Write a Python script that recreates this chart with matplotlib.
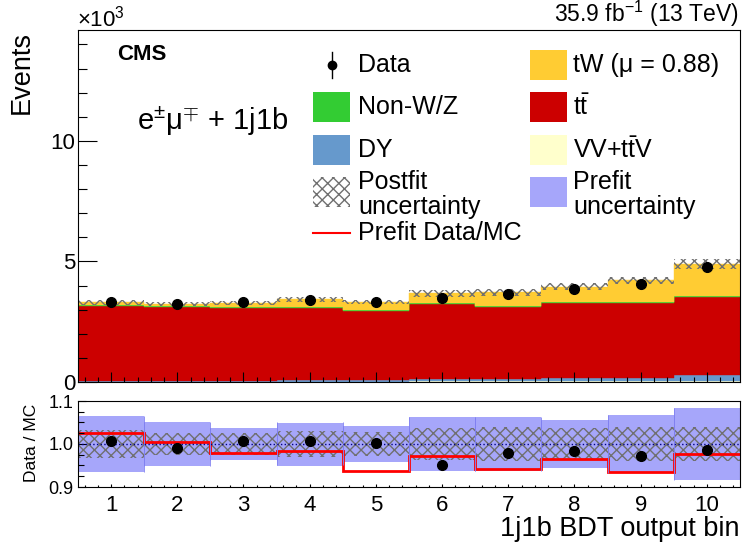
import numpy as np
import matplotlib
matplotlib.use('Agg')
import matplotlib.pyplot as plt
from matplotlib.patches import Rectangle
from matplotlib.lines import Line2D
from matplotlib.ticker import MultipleLocator

plt.rcParams['font.family'] = ['Liberation Sans', 'DejaVu Sans']
plt.rcParams['mathtext.fontset'] = 'custom'
plt.rcParams['mathtext.rm'] = 'Liberation Sans'
plt.rcParams['mathtext.it'] = 'Liberation Sans:italic'
plt.rcParams['mathtext.bf'] = 'Liberation Sans:bold'
plt.rcParams['mathtext.sf'] = 'Liberation Sans'
plt.rcParams['hatch.linewidth'] = 1.0

# bins of the 1j1b BDT output
bins = np.arange(1, 11)
edges = np.arange(0.5, 11.0, 1.0)

# stacked backgrounds, events per bin
vv_ttv = np.array([15, 15, 15, 20, 20, 30, 40, 40, 45, 60])
dy = np.array([20, 25, 25, 60, 60, 80, 100, 110, 110, 240])
ttbar = np.array([3125, 3060, 3020, 3010, 2880, 3120, 2990, 3120, 3115, 3220])
non_wz = np.array([25, 35, 40, 30, 20, 30, 25, 30, 30, 35])
tw = np.array([115, 105, 160, 310, 350, 420, 565, 660, 910, 1345])

# data
data = np.array([3300, 3240, 3300, 3400, 3315, 3500, 3640, 3860, 4070, 4790])
data_err = np.array([57, 57, 57, 58, 58, 59, 60, 62, 64, 69])

# ratio panel
ratio_data = np.array([1.006, 0.990, 1.006, 1.008, 1.003, 0.951, 0.978, 0.984, 0.972, 0.986])
prefit_ratio = np.array([1.025, 1.004, 0.978, 0.984, 0.938, 0.971, 0.941, 0.965, 0.934, 0.976])
prefit_unc = np.array([0.064, 0.052, 0.037, 0.050, 0.043, 0.062, 0.062, 0.056, 0.068, 0.083])
postfit_unc = np.array([0.033, 0.025, 0.025, 0.030, 0.027, 0.037, 0.039, 0.037, 0.039, 0.040])

c_tw = '#ffcc33'
c_tt = '#cc0000'
c_nonwz = '#33cc33'
c_dy = '#6699cc'
c_vv = '#ffffcc'
c_prefit = '#a6a6fa'
c_hatch = '#707070'
hatch = 'xxx'

W, H = 742, 550
def fx(x):
    return x / W
def fy(y):
    return 1 - y / H

fig = plt.figure(figsize=(W / 100, H / 100), dpi=100)
ax = fig.add_axes([fx(78), fy(382), fx(740) - fx(78), fy(30) - fy(382)])
rax = fig.add_axes([fx(78), fy(487), fx(740) - fx(78), fy(401) - fy(487)])

# main panel: stack (in units of 10^3)
base = np.zeros(len(bins))
for comp, col in [(vv_ttv, c_vv), (dy, c_dy), (ttbar, c_tt), (non_wz, c_nonwz), (tw, c_tw)]:
    ax.stairs((base + comp) / 1000, edges, baseline=base / 1000, fill=True,
              facecolor=col, edgecolor=col, lw=0.3)
    base = base + comp
total = base

ax.stairs(total * (1 + postfit_unc) / 1000, edges, baseline=total * (1 - postfit_unc) / 1000,
          fill=True, facecolor='none', edgecolor=c_hatch, hatch=hatch, lw=0)
ax.errorbar(bins, data / 1000, yerr=data_err / 1000, fmt='o', color='k', ms=7,
            elinewidth=1, capsize=0, zorder=5)

ax.set_xlim(0.5, 10.5)
ax.set_ylim(0, 14.6)
ax.yaxis.set_major_locator(MultipleLocator(5))
ax.yaxis.set_minor_locator(MultipleLocator(1))
ax.xaxis.set_major_locator(MultipleLocator(1))
ax.xaxis.set_minor_locator(MultipleLocator(0.2))
ax.tick_params(which='both', direction='in', top=False, right=False, labelbottom=False)
ax.tick_params(axis='y', which='major', length=13.5, width=0.8, labelsize=16, pad=2)
ax.tick_params(axis='y', which='minor', length=6.5, width=0.8)
ax.tick_params(axis='x', which='major', length=7, width=0.8)
ax.tick_params(axis='x', which='minor', length=3.6, width=0.8)

# ratio panel
rax.bar(bins, 2 * prefit_unc, bottom=1 - prefit_unc, width=1.0, color=c_prefit, lw=0)
rax.vlines(edges[:-1], 1 - prefit_unc, 1 + prefit_unc, color='#8080f0', lw=0.6, zorder=1.5)
rax.vlines(edges[1:], 1 - prefit_unc, 1 + prefit_unc, color='#8080f0', lw=0.6, zorder=1.5)
rax.stairs(1 + postfit_unc, edges, baseline=1 - postfit_unc, fill=True,
           facecolor='none', edgecolor=c_hatch, hatch=hatch, lw=0)
rax.axhline(1.0, color='#000080', ls=':', lw=1)
rax.stairs(prefit_ratio, edges, baseline=None, color='red', lw=2)
rax.plot(bins, ratio_data, 'o', color='k', ms=7, zorder=5)

rax.set_xlim(0.5, 10.5)
rax.set_ylim(0.9, 1.1)
rax.set_yticks([0.9, 1.0, 1.1])
rax.set_yticklabels(['0.9', '1.0', '1.1'])
rax.yaxis.set_minor_locator(MultipleLocator(0.025))
rax.set_xticks(bins)
rax.xaxis.set_minor_locator(MultipleLocator(0.2))
rax.tick_params(which='both', direction='in', top=False, right=False)
rax.tick_params(axis='y', which='major', length=5.5, width=0.8, labelsize=13, pad=3)
rax.tick_params(axis='y', which='minor', length=4, width=0.8)
rax.tick_params(axis='x', which='major', length=2.5, width=0.8, labelsize=16, pad=6)
rax.tick_params(axis='x', which='minor', length=1.3, width=0.8)

for a in (ax, rax):
    for s in a.spines.values():
        s.set_linewidth(0.8)

# texts
fig.text(fx(77), fy(19), r'$\times10^{3}$', fontsize=16, ha='left', va='center')
fig.text(fx(739), fy(14), r'35.9 fb$^{-1}$ (13 TeV)', fontsize=16.5, ha='right', va='center')
fig.text(fx(22), fy(72), 'Events', fontsize=19.5, rotation=90, ha='center', va='center')
fig.text(fx(32), fy(443), 'Data / MC', fontsize=12.5, rotation=90, ha='center', va='center')
fig.text(fx(740), fy(529), '1j1b BDT output bin', fontsize=19.5, ha='right', va='center')
fig.text(fx(117), fy(54), 'CMS', fontsize=16, weight='bold', ha='left', va='center')
fig.text(fx(137), fy(121), r'$\mathrm{e^{\pm}\mu^{\mp}}$ + 1j1b', fontsize=21, ha='left', va='center')

# legend drawn by hand
rows = [65, 107, 150, 192, 233]
x1, x2 = 313, 530
t1, t2 = 358, 573
fs = 18

def swatch(x0, yc, **kw):
    fig.add_artist(Rectangle((fx(x0), fy(yc + 15)), 37 / W, 30 / H,
                             transform=fig.transFigure, **kw))

fig.add_artist(Line2D([fx(x1 + 18.5)] * 2, [fy(rows[0] - 13), fy(rows[0] + 13)],
                      color='k', lw=1, transform=fig.transFigure))
fig.add_artist(Line2D([fx(x1 + 18.5)], [fy(rows[0])], marker='o', ms=6, color='k',
                      transform=fig.transFigure))
fig.text(fx(t1), fy(rows[0]), 'Data', fontsize=fs, va='center')

swatch(x1, rows[1], facecolor=c_nonwz, lw=0)
fig.text(fx(t1), fy(rows[1]), 'Non-W/Z', fontsize=fs, va='center')
swatch(x1, rows[2], facecolor=c_dy, lw=0)
fig.text(fx(t1), fy(rows[2]), 'DY', fontsize=fs, va='center')
swatch(x1, rows[3], facecolor='none', edgecolor=c_hatch, hatch=hatch, lw=0)
fig.text(fx(t1), fy(rows[3] - 10), 'Postfit', fontsize=fs, va='center')
fig.text(fx(t1), fy(rows[3] + 15), 'uncertainty', fontsize=fs, va='center')
fig.add_artist(Line2D([fx(x1), fx(x1 + 37)], [fy(rows[4])] * 2, color='red', lw=1.5,
                      transform=fig.transFigure))
fig.text(fx(t1), fy(rows[4]), 'Prefit Data/MC', fontsize=fs, va='center')

swatch(x2, rows[0], facecolor=c_tw, lw=0)
fig.text(fx(t2), fy(rows[0]), 'tW (\u03bc = 0.88)', fontsize=fs, va='center')
swatch(x2, rows[1], facecolor=c_tt, lw=0)
fig.text(fx(t2), fy(rows[1]), r'$\mathrm{t\bar{t}}$', fontsize=fs, va='center')
swatch(x2, rows[2], facecolor=c_vv, lw=0)
fig.text(fx(t2), fy(rows[2]), r'VV+$\mathrm{t\bar{t}}$V', fontsize=fs, va='center')
swatch(x2, rows[3], facecolor=c_prefit, lw=0)
fig.text(fx(t2), fy(rows[3] - 10), 'Prefit', fontsize=fs, va='center')
fig.text(fx(t2), fy(rows[3] + 15), 'uncertainty', fontsize=fs, va='center')

fig.savefig('out.png', dpi=100)
